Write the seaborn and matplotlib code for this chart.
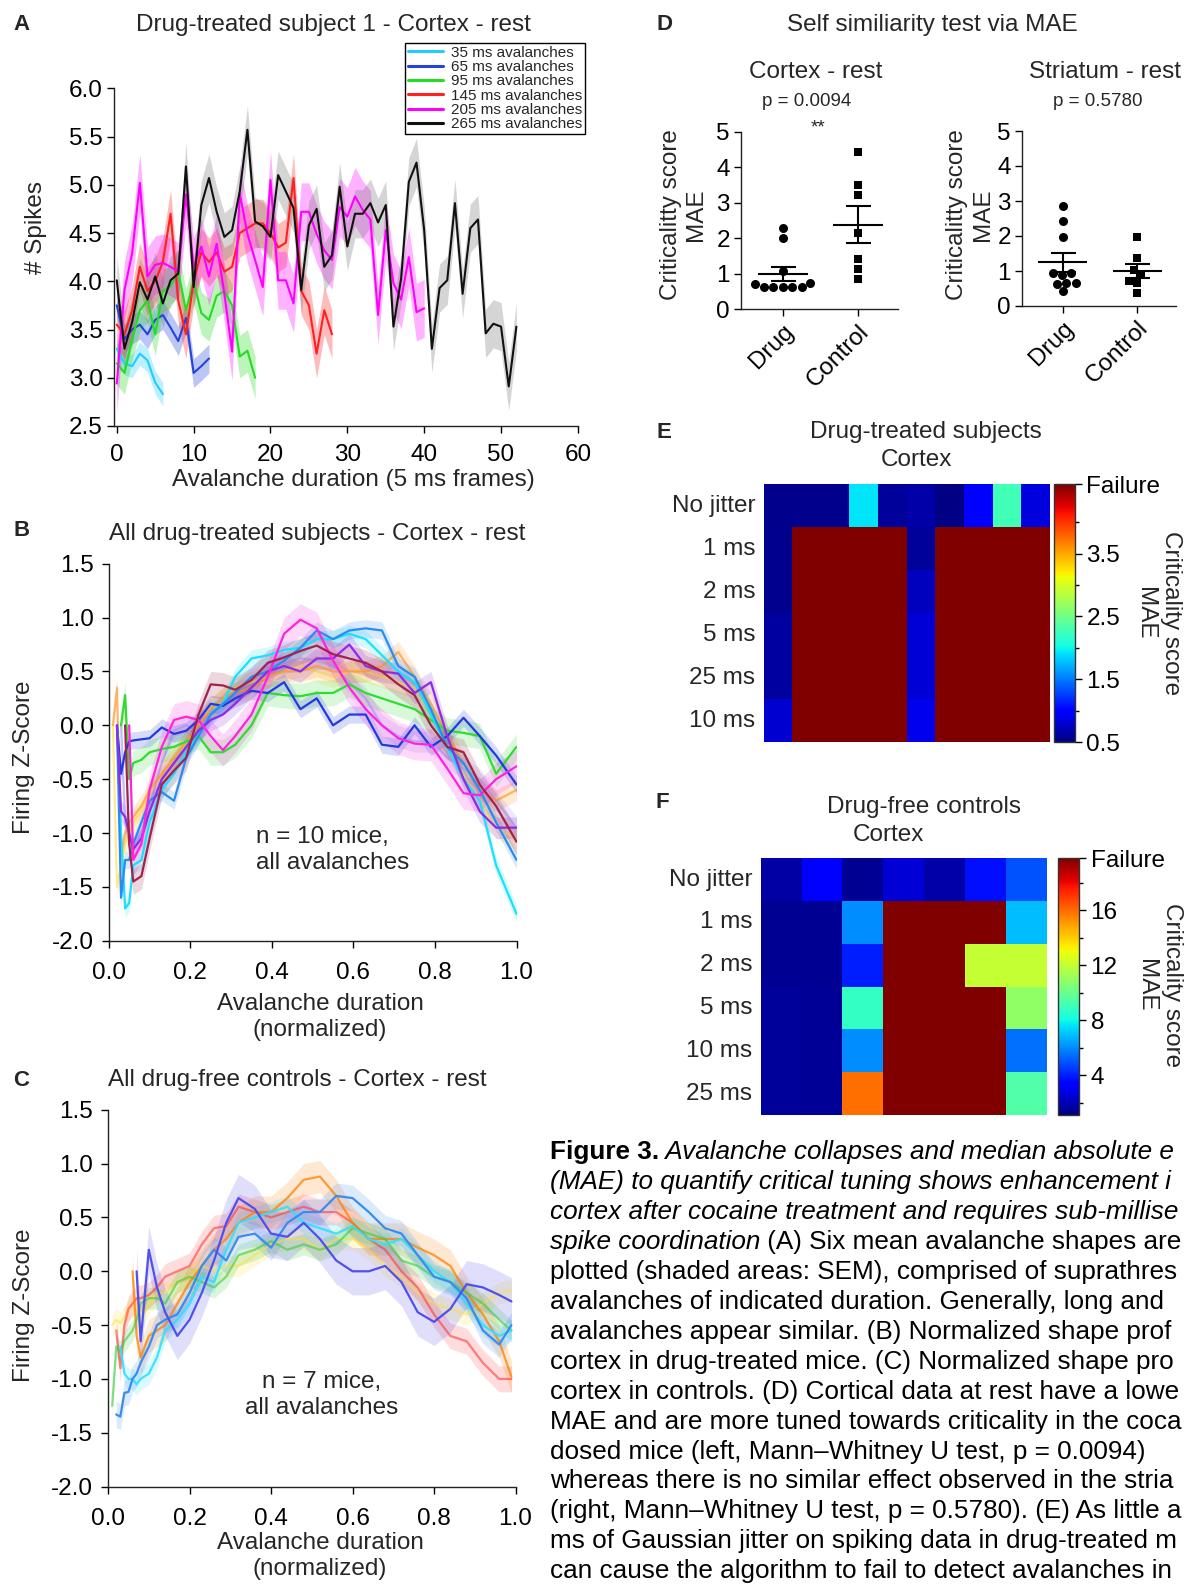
import numpy as np
import pandas as pd
import matplotlib
matplotlib.use("Agg")
import matplotlib.pyplot as plt
import seaborn as sns

nan = np.nan
W, H = 1186, 1587
FS = 17.5

# ---------------- panel A: mean avalanche shapes, subject 1 ----------------
a_labels = ['35 ms avalanches', '65 ms avalanches', '95 ms avalanches',
            '145 ms avalanches', '205 ms avalanches', '265 ms avalanches']
a_colors = ['#22CCFF', '#2244DD', '#22DD22', '#FF2020', '#FF00FF', '#111111']
a_band_colors = ['#22CCFF', '#2244DD', '#22DD22', '#FF2020', '#FF00FF', '#777777']
a_35 = [3.30, 3.15, 3.12, 3.25, 3.18, 2.95, 2.83]
a_65 = [3.75, 3.40, 3.50, 3.55, 3.45, 3.60, 3.65, 3.52, 3.38, 3.62, 3.05, 3.12, 3.20]
a_95 = [3.15, 3.05, 3.40, 3.70, 3.80, 3.45, 3.90, 3.95, 4.10, 3.70, 4.00, 3.67, 3.60,
        3.85, 3.90, 3.75, 3.22, 3.28, 3.00]
a_145 = [3.55, 3.45, 3.70, 4.15, 3.90, 4.00, 4.20, 4.70, 3.80, 3.45, 4.00, 4.30, 4.20,
         4.30, 4.10, 4.15, 4.50, 4.55, 4.60, 4.60, 4.50, 4.35, 4.40, 5.07, 3.90, 3.75,
         3.25, 3.70, 3.45]
a_205 = [2.94, 3.91, 4.29, 5.02, 4.05, 4.17, 4.19, 4.15, 4.10, 4.90, 4.15, 4.36, 4.05,
         4.39, 3.87, 3.27, 4.91, 4.49, 4.22, 3.94, 5.05, 4.01, 4.01, 3.77, 4.72, 4.72,
         4.49, 4.32, 4.22, 4.77, 4.67, 4.88, 4.74, 4.64, 3.65, 4.53, 3.98, 3.81, 4.25,
         3.68, 3.72]
a_265 = [4.01, 3.30, 3.58, 3.99, 3.81, 4.05, 3.77, 4.01, 4.08, 5.19, 3.94, 4.79, 5.07,
         4.72, 4.46, 4.53, 4.93, 5.57, 4.62, 4.57, 4.46, 5.10, 4.93, 4.76, 3.91, 4.58,
         4.75, 4.15, 4.27, 4.98, 4.36, 4.70, 4.70, 4.81, 4.61, 4.79, 3.53, 4.03, 5.03,
         5.23, 4.53, 3.30, 3.93, 4.01, 4.81, 3.87, 4.55, 4.64, 3.46, 3.56, 3.53, 2.91,
         3.53]
a_sem = [0.12, 0.15, 0.22, 0.25, 0.30, 0.25]

# ---------------- panel B: drug-treated, normalized shapes ----------------
b_x = [0.01, 0.02, 0.03, 0.04, 0.05, 0.06, 0.08, 0.10, 0.13, 0.16, 0.19, 0.22, 0.25,
       0.28, 0.31, 0.35, 0.39, 0.43, 0.47, 0.51, 0.55, 0.59, 0.63, 0.67, 0.71, 0.75,
       0.79, 0.83, 0.87, 0.91, 0.95, 1.0]
b_yellow = [0.0, -1.5, -1.3, -1.1, -1.0, -0.9, -0.8, -0.65, -0.45, -0.3, -0.15, 0.0, 0.15,
            0.25, 0.35, 0.4, 0.45, 0.5, 0.55, 0.5, 0.45, 0.5, 0.5, 0.45, 0.4, 0.35, 0.1,
            -0.2, -0.45, -0.7, -0.95, -1.05]
b_lavender = [nan, nan, 0.0, -0.9, -1.05, -1.15, -1.0, -0.75, -0.35, -0.05, 0.0, -0.05,
              0.1, 0.2, 0.3, 0.45, 0.55, 0.58, 0.62, 0.6, 0.55, 0.4, 0.25, 0.0, -0.1,
              -0.15, -0.15, -0.3, -0.4, -0.5, -0.7, -0.95]
b_orange = [0.0, 0.35, -1.2, -1.0, -0.9, -0.85, -0.75, -0.6, -0.45, -0.3, -0.15, 0.0, 0.15,
            0.25, 0.3, 0.35, 0.45, 0.5, 0.5, 0.55, 0.5, 0.5, 0.5, 0.55, 0.68, 0.45, 0.2,
            -0.1, -0.35, -0.6, -0.7, -0.6]
b_green = [nan, nan, 0.0, 0.28, -0.5, -0.35, -0.32, -0.25, -0.22, -0.2, -0.15, -0.1, -0.25,
           -0.25, -0.18, 0.0, 0.3, 0.28, 0.27, 0.3, 0.3, 0.38, 0.3, 0.25, 0.2, 0.15, 0.05,
           -0.05, -0.07, -0.1, -0.45, -0.2]
b_blue = [nan, 0.0, -0.45, -0.25, -0.15, -0.14, -0.13, -0.12, -0.02, -0.08, -0.05, 0.05,
          0.2, 0.18, 0.25, 0.32, 0.3, 0.4, 0.15, 0.25, 0.0, 0.1, 0.1, -0.18, -0.2, 0.0,
          -0.2, -0.1, 0.07, -0.1, -0.28, -0.55]
b_cyan = [nan, 0.0, -1.0, -1.7, -1.65, -1.3, -1.25, -0.9, -0.6, -0.45, -0.25, -0.1, 0.1,
          0.2, 0.45, 0.62, 0.65, 0.7, 0.72, 0.8, 0.8, 0.85, 0.8, 0.65, 0.5, 0.4, 0.1,
          -0.2, -0.5, -0.7, -1.3, -1.75]
b_dodger = [nan, 0.0, -1.6, -1.25, -1.25, -1.1, -0.9, -0.7, -0.62, -0.7, -0.3, -0.1, 0.1,
            0.2, 0.3, 0.45, 0.5, 0.6, 0.72, 0.88, 0.8, 0.88, 0.9, 0.88, 0.55, 0.45, 0.15,
            -0.2, -0.35, -0.6, -0.9, -1.25]
b_purple = [nan, 0.0, -0.8, -0.85, -1.0, -1.15, -1.05, -0.8, -0.5, -0.35, -0.2, -0.05, 0.05,
            0.1, 0.2, 0.35, 0.5, 0.55, 0.5, 0.62, 0.62, 0.75, 0.55, 0.5, 0.48, 0.3, 0.4,
            -0.1, -0.5, -0.8, -0.95, -0.95]
b_magenta = [nan, nan, nan, nan, 0.0, -1.25, -1.1, -0.6, -0.2, 0.05, 0.08, 0.05, -0.1,
             -0.23, -0.1, 0.1, 0.45, 0.85, 0.98, 0.9, 0.6, 0.35, 0.15, 0.0, -0.12, -0.17,
             -0.18, -0.4, -0.63, -0.65, -0.5, -0.38]
b_maroon = [nan, nan, nan, 0.0, -1.1, -1.45, -1.4, -1.05, -0.55, -0.42, -0.3, 0.1, 0.38,
            0.37, 0.33, 0.42, 0.58, 0.63, 0.69, 0.74, 0.66, 0.62, 0.58, 0.5, 0.38, 0.28,
            0.0, -0.2, -0.25, -0.55, -0.75, -1.08]
b_series = [b_yellow, b_lavender, b_orange, b_green, b_blue, b_cyan, b_dodger, b_purple,
            b_magenta, b_maroon]
b_colors = ['#FFD21F', '#9A8CF0', '#FF8C1A', '#2EDD2E', '#1F3BE0', '#18E0FF', '#2A8BF0',
            '#8C2BE8', '#FF22E0', '#A0234F']
b_alpha = [0.45, 0.55, 0.6, 1, 1, 1, 1, 1, 1, 1]
b_sem = [0.1, 0.1, 0.1, 0.12, 0.08, 0.08, 0.08, 0.1, 0.15, 0.12]

# ---------------- panel C: drug-free controls ----------------
c_x = [0.01, 0.02, 0.03, 0.04, 0.05, 0.06, 0.07, 0.08, 0.10, 0.12, 0.14, 0.17, 0.20, 0.23,
       0.26, 0.29, 0.32, 0.36, 0.40, 0.44, 0.48, 0.52, 0.56, 0.60, 0.64, 0.68, 0.72, 0.76,
       0.80, 0.84, 0.88, 0.92, 0.96, 0.99]
c_yellow = [-0.5, -0.45, -0.48, -0.42, -0.35, -0.3, -0.35, -0.45, -0.3, -0.2, -0.2, -0.1,
            -0.05, 0.05, 0.0, 0.05, 0.05, 0.15, 0.25, 0.3, 0.3, 0.2, 0.3, 0.3, 0.2, 0.05,
            -0.05, -0.2, -0.3, -0.35, -0.4, -0.3, -0.2, -0.18]
c_red = [nan, -0.55, -0.9, -0.5, -0.35, -0.3, -0.25, -0.25, -0.22, -0.15, -0.05, 0.0, 0.05,
         0.25, 0.4, 0.42, 0.6, 0.55, 0.5, 0.55, 0.6, 0.55, 0.55, 0.45, 0.3, 0.2, 0.0, -0.15,
         -0.4, -0.6, -0.65, -0.85, -1.0, -1.0]
c_orange = [nan, nan, nan, nan, nan, 0.0, -0.6, -0.8, -0.6, -0.55, -0.5, -0.3, -0.1, 0.05,
            0.2, 0.3, 0.45, 0.55, 0.55, 0.68, 0.85, 0.88, 0.7, 0.45, 0.3, 0.3, 0.3, 0.22,
            0.15, 0.05, -0.2, -0.4, -0.65, -0.98]
c_green = [-1.25, -0.7, -0.75, -0.65, -0.6, -0.55, -0.45, -0.3, -0.25, -0.25, -0.3, -0.1,
           -0.05, -0.1, -0.15, -0.05, 0.15, 0.2, 0.28, 0.2, 0.25, 0.2, 0.25, 0.4, 0.35, 0.3,
           0.1, 0.05, -0.05, -0.1, -0.2, -0.3, -0.45, -0.55]
c_cyan = [nan, nan, -0.7, -0.95, -1.0, -1.0, -1.05, -1.0, -0.95, -0.8, -0.55, -0.45, -0.3,
          -0.05, -0.1, 0.2, 0.45, 0.5, 0.55, 0.6, 0.45, 0.4, 0.35, 0.42, 0.3, 0.25, 0.3,
          0.15, 0.0, -0.1, -0.3, -0.5, -0.6, -0.55]
c_dodger = [nan, -1.33, -1.35, -1.13, -1.12, -1.0, -0.95, -0.85, -0.7, -0.5, -0.45, -0.4,
            -0.2, 0.05, 0.2, 0.1, 0.32, 0.35, 0.22, 0.45, 0.55, 0.55, 0.7, 0.68, 0.55, 0.4,
            0.35, 0.15, -0.05, -0.1, -0.25, -0.55, -0.68, -0.5]
c_slate = [nan, nan, nan, nan, nan, nan, 0.0, -0.65, 0.2, -0.15, -0.38, -0.6, -0.45, -0.2,
           0.1, 0.45, 0.68, 0.58, 0.35, 0.32, 0.45, 0.3, 0.1, 0.0, 0.0, 0.05, -0.1, -0.38,
           -0.47, -0.35, -0.12, -0.15, -0.22, -0.28]
c_series = [c_yellow, c_red, c_orange, c_green, c_cyan, c_dodger, c_slate]
c_colors = ['#FFE030', '#FF3A3A', '#FF8000', '#3ACC3A', '#30E0FF', '#3C8CF0', '#5050EE']
c_alpha = [0.5, 0.6, 0.75, 0.6, 0.9, 1, 1]
c_sem = [0.1, 0.12, 0.15, 0.1, 0.1, 0.12, 0.22]

# ---------------- panel D: MAE per mouse ----------------
d_ctx_drug = [2.30, 2.00, 1.07, 0.75, 0.72, 0.64, 0.63, 0.63, 0.62, 0.64]
d_ctx_ctrl = [4.44, 3.50, 3.22, 2.14, 1.43, 1.13, 0.84]
d_str_drug = [2.86, 2.44, 1.98, 0.93, 0.93, 0.90, 0.67, 0.67, 0.63, 0.43]
d_str_ctrl = [1.98, 1.36, 1.03, 0.89, 0.72, 0.67, 0.36]
d_groups = ['Drug', 'Control']

# ---------------- panels E / F: jitter heatmaps ----------------
FAIL = 99.0
e_rows = ['No jitter', '1 ms', '2 ms', '5 ms', '25 ms', '10 ms']
e_nojitter = [0.55, 0.55, 0.55, 1.94, 0.60, 0.66, 0.53, 0.97, 2.26, 0.85]
e_1ms = [0.55, FAIL, FAIL, FAIL, FAIL, 0.60, FAIL, FAIL, FAIL, FAIL]
e_2ms = [0.55, FAIL, FAIL, FAIL, FAIL, 0.73, FAIL, FAIL, FAIL, FAIL]
e_5ms = [0.62, FAIL, FAIL, FAIL, FAIL, 0.81, FAIL, FAIL, FAIL, FAIL]
e_25ms = [0.62, FAIL, FAIL, FAIL, FAIL, 0.81, FAIL, FAIL, FAIL, FAIL]
e_10ms = [0.79, FAIL, FAIL, FAIL, FAIL, 0.90, FAIL, FAIL, FAIL, FAIL]

f_rows = ['No jitter', '1 ms', '2 ms', '5 ms', '10 ms', '25 ms']
f_nojitter = [1.7, 3.3, 1.4, 2.5, 1.8, 3.7, 4.9]
f_1ms = [1.4, 1.4, 6.0, FAIL, FAIL, FAIL, 6.9]
f_2ms = [1.4, 1.4, 4.0, FAIL, FAIL, 12.1, 12.1]
f_5ms = [1.6, 1.5, 8.8, FAIL, FAIL, FAIL, 10.9]
f_10ms = [1.6, 1.5, 6.0, FAIL, FAIL, FAIL, 5.5]
f_25ms = [1.6, 1.5, 15.9, FAIL, FAIL, FAIL, 9.5]

# caption as far as it is visible in the figure
caption = [
    [("Figure 3.", "bold"), (" Avalanche collapses and median absolute e", "italic")],
    [("(MAE) to quantify critical tuning shows enhancement i", "italic")],
    [("cortex after cocaine treatment and requires sub-millise", "italic")],
    [("spike coordination", "italic"), (" (A) Six mean avalanche shapes are", "normal")],
    [("plotted (shaded areas: SEM), comprised of suprathres", "normal")],
    [("avalanches of indicated duration. Generally, long and", "normal")],
    [("avalanches appear similar. (B) Normalized shape prof", "normal")],
    [("cortex in drug-treated mice. (C) Normalized shape pro", "normal")],
    [("cortex in controls. (D) Cortical data at rest have a lowe", "normal")],
    [("MAE and are more tuned towards criticality in the coca", "normal")],
    [("dosed mice (left, Mann\u2013Whitney U test, p = 0.0094)", "normal")],
    [("whereas there is no similar effect observed in the stria", "normal")],
    [("(right, Mann\u2013Whitney U test, p = 0.5780). (E) As little a", "normal")],
    [("ms of Gaussian jitter on spiking data in drug-treated m", "normal")],
    [("can cause the algorithm to fail to detect avalanches in", "normal")],
]


def px_axes(fig, left, top, right, bottom):
    return fig.add_axes([left / W, 1 - bottom / H, (right - left) / W, (bottom - top) / H])


def px_text(fig, x, y, s, **kw):
    return fig.text(x / W, 1 - y / H, s, **kw)


def style_axes(ax, xpad=3, ypad=3):
    sns.despine(ax=ax)
    ax.tick_params(direction='out', length=5, width=1, labelsize=FS, colors='black')
    ax.tick_params(axis='x', pad=xpad)
    ax.tick_params(axis='y', pad=ypad)
    for sp in ax.spines.values():
        sp.set_color('#222222')
        sp.set_linewidth(1)
    ax.set_xlabel('')
    ax.set_ylabel('')


sns.set_theme(style='ticks')
plt.rcParams['font.family'] = ['Liberation Sans', 'DejaVu Sans']
plt.rcParams['axes.unicode_minus'] = False

fig = plt.figure(figsize=(W / 100, H / 100), dpi=100)

# ---- A ----
ax_a = px_axes(fig, 113.7, 88.3, 577.9, 426)
for vals, sem, color, band, label in zip([a_35, a_65, a_95, a_145, a_205, a_265], a_sem,
                                         a_colors, a_band_colors, a_labels):
    frames = np.arange(len(vals))
    y = np.array(vals)
    ax_a.fill_between(frames, y - sem, y + sem, color=band, alpha=0.3, lw=0)
    sns.lineplot(x=frames, y=y, color=color, lw=1.5, label=label, ax=ax_a)
ax_a.set_xlim(-0.4, 60)
ax_a.set_ylim(2.5, 6.0)
ax_a.set_xticks(range(0, 61, 10))
ax_a.set_yticks(np.arange(2.5, 6.01, 0.5))
ax_a.set_yticklabels([f'{v:.1f}' for v in np.arange(2.5, 6.01, 0.5)])
style_axes(ax_a, xpad=8)
leg = ax_a.legend(loc='upper left', bbox_to_anchor=(405 / W, 1 - 42.7 / H),
                  bbox_transform=fig.transFigure, fontsize=11, frameon=True, fancybox=False,
                  edgecolor='black', framealpha=1, borderpad=0.2, labelspacing=0.02,
                  handlelength=2.3, handletextpad=0.5, borderaxespad=0)
leg.get_frame().set_linewidth(1)
for ln in leg.get_lines():
    ln.set_linewidth(2.2)
px_text(fig, 21.8, 25, 'A', fontsize=16, fontweight='bold', ha='center', va='center')
px_text(fig, 333, 25, 'Drug-treated subject 1 - Cortex - rest', fontsize=FS, ha='center', va='center')
px_text(fig, 353, 480, 'Avalanche duration (5 ms frames)', fontsize=FS, ha='center', va='center')
px_text(fig, 36, 228, '# Spikes', fontsize=FS, ha='center', va='center', rotation=90)


def shape_panel(ax, xs, series, colors, alphas, sems):
    x = np.array(xs)
    for vals, color, alpha, sem in zip(series, colors, alphas, sems):
        y = np.array(vals)
        ax.fill_between(x, y - sem, y + sem, color=color, alpha=0.18, lw=0)
        sns.lineplot(x=x, y=y, color=color, alpha=alpha, lw=1.6, ax=ax, errorbar=None)
    ax.set_xlim(0, 1.0)
    ax.set_ylim(-2.0, 1.5)
    ax.set_xticks(np.arange(0, 1.01, 0.2))
    ax.set_xticklabels([f'{v:.1f}' for v in np.arange(0, 1.01, 0.2)])
    ax.set_yticks(np.arange(-2.0, 1.51, 0.5))
    ax.set_yticklabels([f'{v:.1f}' for v in np.arange(-2.0, 1.51, 0.5)])
    style_axes(ax, xpad=10.5, ypad=6)


# ---- B ----
ax_b = px_axes(fig, 108.8, 563.7, 516.5, 940.8)
shape_panel(ax_b, b_x, b_series, b_colors, b_alpha, b_sem)
px_text(fig, 21.3, 531, 'B', fontsize=16, fontweight='bold', ha='center', va='center')
px_text(fig, 317, 534, 'All drug-treated subjects - Cortex - rest', fontsize=FS, ha='center', va='center')
px_text(fig, 256.5, 850, 'n = 10 mice,\nall avalanches', fontsize=FS, ha='left', va='center')
px_text(fig, 320, 1017, 'Avalanche duration\n(normalized)', fontsize=FS, ha='center', va='center',
        multialignment='center')
px_text(fig, 24, 757, 'Firing Z-Score', fontsize=FS, ha='center', va='center', rotation=90)

# ---- C ----
ax_c = px_axes(fig, 108.1, 1109.8, 515.5, 1486.6)
shape_panel(ax_c, c_x, c_series, c_colors, c_alpha, c_sem)
px_text(fig, 21.3, 1080, 'C', fontsize=16, fontweight='bold', ha='center', va='center')
px_text(fig, 297, 1080, 'All drug-free controls - Cortex - rest', fontsize=FS, ha='center', va='center')
px_text(fig, 322, 1395, 'n = 7 mice,\nall avalanches', fontsize=FS, ha='center', va='center',
        multialignment='center')
px_text(fig, 320, 1556, 'Avalanche duration\n(normalized)', fontsize=FS, ha='center', va='center',
        multialignment='center')
px_text(fig, 24, 1305, 'Firing Z-Score', fontsize=FS, ha='center', va='center', rotation=90)


# ---- D ----
def mae_panel(ax, drug, ctrl):
    df = pd.DataFrame({'group': ['Drug'] * len(drug) + ['Control'] * len(ctrl),
                       'mae': drug + ctrl})
    sns.swarmplot(data=df[df.group == 'Drug'], x='group', y='mae', order=d_groups,
                  marker='o', color='black', size=6.5, ax=ax)
    sns.swarmplot(data=df[df.group == 'Control'], x='group', y='mae', order=d_groups,
                  marker='s', color='black', size=6, ax=ax)
    for i, vals in enumerate([drug, ctrl]):
        m = np.mean(vals)
        s = np.std(vals, ddof=1) / np.sqrt(len(vals))
        ax.hlines(m, i - 0.33, i + 0.33, color='black', lw=1.5, zorder=5)
        ax.errorbar(i, m, yerr=s, color='black', capsize=9, capthick=1.5, elinewidth=1.5, zorder=5)
    ax.set_xlim(-0.55, 1.52)
    ax.set_ylim(0, 5)
    ax.set_yticks(range(0, 6))
    ax.set_xticks([0, 1])
    style_axes(ax)
    ax.set_xticklabels(d_groups, rotation=45, ha='right', rotation_mode='anchor', fontsize=FS)


ax_d1 = px_axes(fig, 741, 131.7, 897.7, 309.3)
mae_panel(ax_d1, d_ctx_drug, d_ctx_ctrl)
ax_d2 = px_axes(fig, 1022, 131, 1176, 306)
mae_panel(ax_d2, d_str_drug, d_str_ctrl)
px_text(fig, 664.4, 25, 'D', fontsize=16, fontweight='bold', ha='center', va='center')
px_text(fig, 932.5, 25, 'Self similiarity test via MAE', fontsize=FS, ha='center', va='center')
px_text(fig, 815.8, 71.7, 'Cortex - rest', fontsize=FS, ha='center', va='center')
px_text(fig, 807, 101.7, 'p = 0.0094', fontsize=13.5, ha='center', va='center')
px_text(fig, 817.6, 128, '**', fontsize=13.5, ha='center', va='center')
px_text(fig, 1104.8, 71.7, 'Striatum - rest', fontsize=FS, ha='center', va='center')
px_text(fig, 1097.9, 101.7, 'p = 0.5780', fontsize=13.5, ha='center', va='center')
px_text(fig, 683.5, 215, 'Criticalitty score\nMAE', fontsize=FS, ha='center', va='center',
        rotation=90, multialignment='center')
px_text(fig, 970, 215, 'Criticalitty score\nMAE', fontsize=FS, ha='center', va='center',
        rotation=90, multialignment='center')


# ---- E / F ----
def jitter_heatmap(ax, cax, rows, labels, vmin, vmax, ticks, ticklabels, minor):
    data = pd.DataFrame(rows, index=labels)
    sns.heatmap(data, ax=ax, cbar_ax=cax, cmap='jet', vmin=vmin, vmax=vmax,
                xticklabels=False, yticklabels=True)
    ax.set_yticklabels(labels, rotation=0, fontsize=FS)
    ax.tick_params(axis='y', length=0, pad=6)
    ax.set_xlabel('')
    ax.set_ylabel('')
    cbar = ax.collections[0].colorbar
    cbar.set_ticks(ticks)
    cbar.set_ticklabels(ticklabels)
    cbar.ax.yaxis.set_ticks(minor, minor=True)
    cbar.ax.tick_params(which='both', direction='out', length=5, width=1, labelsize=FS,
                        colors='black', pad=3)
    cbar.ax.tick_params(which='minor', length=3)
    cbar.outline.set_edgecolor('#333333')
    cbar.outline.set_linewidth(1)


ax_e = px_axes(fig, 763.6, 484.3, 1049.8, 742.3)
cax_e = px_axes(fig, 1053.6, 484.3, 1075.2, 742.3)
jitter_heatmap(ax_e, cax_e, [e_nojitter, e_1ms, e_2ms, e_5ms, e_25ms, e_10ms], e_rows,
               0.5, 4.6, [0.5, 1.5, 2.5, 3.5, 4.6], ['0.5', '1.5', '2.5', '3.5', 'Failure'],
               [1.0, 2.0, 3.0, 4.0])
px_text(fig, 664.4, 433, 'E', fontsize=16, fontweight='bold', ha='center', va='center')
px_text(fig, 925.5, 432, 'Drug-treated subjects', fontsize=FS, ha='center', va='center')
px_text(fig, 916, 460, 'Cortex', fontsize=FS, ha='center', va='center')
px_text(fig, 1158, 613, 'Criticality score\nMAE', fontsize=FS, ha='center', va='center',
        rotation=270, multialignment='center')

ax_f = px_axes(fig, 760.8, 858.3, 1046.7, 1115)
cax_f = px_axes(fig, 1057.8, 858.3, 1079.4, 1115)
jitter_heatmap(ax_f, cax_f, [f_nojitter, f_1ms, f_2ms, f_5ms, f_10ms, f_25ms], f_rows,
               1.1, 19.8, [4, 8, 12, 16, 19.8], ['4', '8', '12', '16', 'Failure'],
               [2, 6, 10, 14, 18])
px_text(fig, 662.6, 803, 'F', fontsize=16, fontweight='bold', ha='center', va='center')
px_text(fig, 923.8, 806.7, 'Drug-free controls', fontsize=FS, ha='center', va='center')
px_text(fig, 888, 835, 'Cortex', fontsize=FS, ha='center', va='center')
px_text(fig, 1159, 985, 'Criticality score\nMAE', fontsize=FS, ha='center', va='center',
        rotation=270, multialignment='center')

# ---- caption (kept inside the canvas) ----
renderer = fig.canvas.get_renderer()
for i, line in enumerate(caption):
    x = 550.0
    y = 1152.5 + 29.9 * i
    for piece, style in line:
        kw = dict(fontsize=18.8, ha='left', va='center', color='black')
        if style == 'bold':
            kw['fontweight'] = 'bold'
        if style == 'italic':
            kw['fontstyle'] = 'italic'
        t = px_text(fig, x, y, piece, **kw)
        while x + t.get_window_extent(renderer).width > W - 2 and len(piece) > 1:
            piece = piece[:-1]
            t.set_text(piece)
        x += t.get_window_extent(renderer).width

fig.savefig('out.png', dpi=100)
